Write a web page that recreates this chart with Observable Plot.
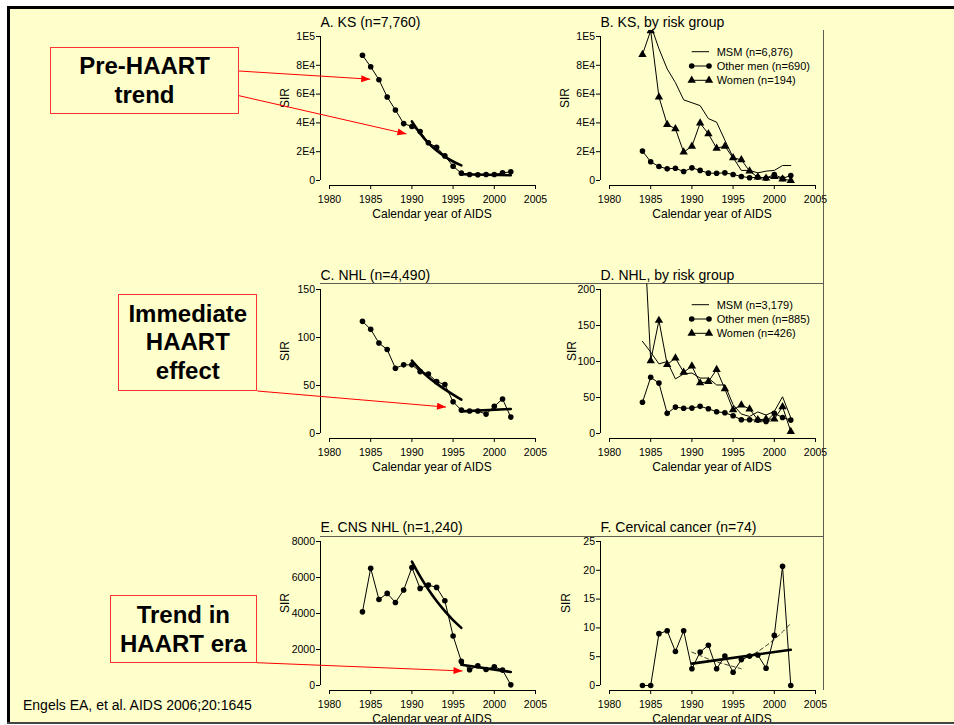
<!DOCTYPE html>
<html>
<head>
<meta charset="utf-8">
<script src="https://cdn.jsdelivr.net/npm/d3@7"></script>
<script src="https://cdn.jsdelivr.net/npm/@observablehq/plot@0.6"></script>
<style>
  html, body { margin: 0; padding: 0; }
  body { width: 954px; height: 725px; overflow: hidden; position: relative; background: #fff;
         font-family: "Liberation Sans", Arial, Helvetica, sans-serif; }
  #slide { position: absolute; left: 7px; top: 6px; width: 980px; height: 716px; background: #ffffcc;
           border-top: 3px solid #000; border-left: 3px solid #000; }
  #bottomBorder { position: absolute; left: 7px; top: 722px; width: 980px; height: 2px; background: #444; z-index: 20; }
  #below { position: absolute; left: 0; top: 724px; width: 954px; height: 2px; background: #fff; z-index: 20; }
  .panel { position: absolute; z-index: 2; }
  .panel svg { display: block; }
  .box { position: absolute; box-sizing: border-box; border: 1.2px solid #ff3333; z-index: 4;
         display: flex; align-items: center; justify-content: center; text-align: center;
         font-weight: bold; font-size: 24px; color: #000; }
  #cite { position: absolute; left: 23px; top: 697px; font-size: 14px; line-height: 16px; color: #000; z-index: 4; white-space: nowrap; }
  #overlay { position: absolute; left: 0; top: 0; z-index: 10; pointer-events: none; }
</style>
</head>
<body>
<div id="slide"></div>
<div id="bottomBorder"></div>
<div id="below"></div>
<div id="cite">Engels EA, et al. AIDS 2006;20:1645</div>
<script>
// ---------------- data ----------------
const years = [1984, 1985, 1986, 1987, 1988, 1989, 1990, 1991, 1992, 1993, 1994, 1995, 1996, 1997, 1998, 1999, 2000, 2001, 2002];
const preYears = [1990, 1991, 1992, 1993, 1994, 1995, 1996];
const postYears = [1996, 2002];
const postYearsCurve = [1996, 1997, 1998, 1999, 2000, 2001, 2002];
const xTicks = [1980, 1985, 1990, 1995, 2000, 2005];

// A. KS
const ksTicks = [0, 20000, 40000, 60000, 80000, 100000];
const ksTickLabels = ["0", "2E4", "4E4", "6E4", "8E4", "1E5"];
const A_sir = [87000, 79000, 70000, 58000, 49000, 39500, 37500, 34000, 26200, 23100, 17100, 9900, 5100, 4200, 4000, 4200, 4200, 5300, 6000];
const A_pre = [41000, 32700, 26000, 20800, 16600, 13200, 10500];
const A_post = [4300, 3600];

// B. KS by risk group
const B_msm = [125000, 108000, 91500, 77500, 68000, 56000, 54000, 52000, 43000, 40500, 28000, 16000, 7000, 7000, 5300, 6500, 7000, 10400, 10400];
const B_other = [20400, 13000, 9700, 8100, 8500, 6200, 8800, 7000, 5100, 5000, 5300, 4200, 2800, 1900, 2300, 1600, 4200, 1400, 3500];
const B_women = [87500, 104000, 58000, 38900, 35900, 19700, 23800, 39800, 32400, 22400, 23800, 15700, 14400, 6500, 2300, 1600, 2800, 1000, 0];
const B_legend = ["MSM (n=6,876)", "Other men (n=690)", "Women (n=194)"];

// C. NHL
const nhlTicks = [0, 50, 100, 150];
const C_sir = [116.8, 108.5, 94.2, 87.5, 68, 71.5, 71.5, 64.5, 62, 54, 51, 33, 24.4, 23.4, 23.4, 20.2, 28.3, 36, 17.1];
const C_pre = [76, 66.5, 58.5, 52, 46, 40.5, 35.2];
const C_post = [23, 25.5];

// D. NHL by risk group
const nhlRiskTicks = [0, 50, 100, 150, 200];
const D_msm = [128, 113, 96.7, 100, 75.8, 82.8, 84, 77, 77, 67.4, 67.4, 40, 27, 23.7, 30, 25.6, 30.7, 51, 21.9];
const D_other = [43.3, 78, 70, 28, 36.7, 35, 35.3, 37.7, 34.4, 30.2, 28.8, 24.7, 19, 19, 18.6, 16.7, 28, 22.3, 18.6];
const D_women = [325, 101, 157, 95.8, 104.7, 85, 93.5, 70.2, 72, 88.8, 61.9, 33, 39.5, 34, 19, 20, 20, 37.2, 2.8];
const D_legend = ["MSM (n=3,179)", "Other men (n=885)", "Women (n=426)"];

// E. CNS NHL
const cnsTicks = [0, 2000, 4000, 6000, 8000];
const E_sir = [4093, 6512, 4781, 5116, 4614, 5302, 6549, 5395, 5581, 5451, 4707, 2753, 1340, 874, 1098, 893, 1042, 856, 37];
const E_pre = [6880, 6060, 5330, 4690, 4130, 3630, 3200];
const E_post = [1150, 750];

// F. Cervical cancer
const cervTicks = [0, 5, 10, 15, 20, 25];
const F_sir = [0, 0, 9.0, 9.5, 5.9, 9.5, 2.9, 5.8, 7.0, 2.9, 5.1, 2.3, 4.5, 5.1, 5.3, 3.0, 8.7, 20.7, 0];
const F_trendYears = [1990, 2002];
const F_trend = [3.8, 6.2];
const F_dashPre = [5.8, 5.2, 4.6, 4.1, 3.7, 3.3, 2.9];
const F_dashPost = [4.4, 5.1, 5.9, 6.9, 8.0, 9.3, 10.8];

const titles = ["A. KS (n=7,760)", "B. KS, by risk group", "C. NHL (n=4,490)", "D. NHL, by risk group", "E. CNS NHL (n=1,240)", "F. Cervical cancer (n=74)"];
const xLabel = "Calendar year of AIDS";
const yLabel = "SIR";
const boxTexts = [["Pre-HAART", "trend"], ["Immediate", "HAART", "effect"], ["Trend in", "HAART era"]];

// ---------------- layout ----------------
const FONT = "'Liberation Sans', Arial, Helvetica, sans-serif";
const ML = 52, MR = 4, MT = 24, MB = 42, FH = 155;
const cols = [{fl: 320, fr: 543}, {fl: 600, fr: 823}];
const rows = [30, 283, 535];

const toRows = (xs, ys) => xs.map((year, i) => ({year, sir: ys[i]}));

function panel(cfg) {
  const {col, row, yTop, yTicks, yLabels, title, sirDx, marks} = cfg;
  const fl = cols[col].fl, fr = cols[col].fr, ft = rows[row];
  const width = ML + (fr - fl) + MR;
  const height = MT + FH + MB;
  const labelOf = new Map(yTicks.map((t, i) => [t, yLabels ? yLabels[i] : String(t)]));
  const chart = Plot.plot({
    width, height,
    marginLeft: ML, marginRight: MR, marginTop: MT, marginBottom: MB,
    insetTop: 6, insetBottom: 5, insetLeft: 9, insetRight: 8,
    style: {background: "transparent", fontFamily: FONT, fontSize: "10.5px", color: "#000", overflow: "visible"},
    x: {domain: [1980, 2005]},
    y: {domain: [0, yTop]},
    marks: [
      Plot.axisX({ticks: xTicks, tickFormat: d => String(d), tickSize: 4, tickPadding: 6, label: null, fontSize: 10.5}),
      Plot.axisY({ticks: yTicks, tickFormat: d => labelOf.get(d), tickSize: 4, tickPadding: 1.5, label: null, fontSize: 10.5}),
      Plot.ruleX([1980], {y1: () => 0, y2: () => yTop, dx: -9, stroke: "#000", strokeWidth: 1}),
      Plot.ruleY([0], {x1: () => 1980, x2: () => 2005, dy: 5, stroke: "#000", strokeWidth: 1}),
      Plot.text([title], {frameAnchor: "top-left", textAnchor: "start", dy: -13, fontSize: 14}),
      Plot.text([yLabel], {frameAnchor: "left", rotate: -90, dx: sirDx, fontSize: 12}),
      Plot.text([xLabel], {frameAnchor: "bottom", dy: 32, fontSize: 12}),
      ...marks
    ]
  });
  const svgLeft = fl - ML, svgTop = ft - MT;
  const div = document.createElement("div");
  div.className = "panel";
  div.style.left = svgLeft + "px";
  div.style.top = svgTop + "px";
  div.style.width = width + "px";
  div.style.height = height + "px";
  div.appendChild(chart);
  document.body.appendChild(div);
  return {chart, svgLeft, svgTop, fl, ft};
}

const dotR = 2.8;
const baseLine = (data, extra = {}) => Plot.line(data, {x: "year", y: "sir", stroke: "#000", strokeWidth: 1, clip: true, ...extra});
const circles = (data) => Plot.dot(data, {x: "year", y: "sir", r: dotR, fill: "#000", stroke: "none", clip: true});
const triangles = (data) => Plot.dot(data, {x: "year", y: "sir", r: 3.1, symbol: "triangle", fill: "#000", stroke: "none", clip: true});
const trend = (data, curve = "catmull-rom") => Plot.line(data, {x: "year", y: "sir", stroke: "#000", strokeWidth: 2.6, curve, clip: true});

// A
const aRows = toRows(years, A_sir);
const pA = panel({col: 0, row: 0, yTop: 100000, yTicks: ksTicks, yLabels: ksTickLabels, title: titles[0], sirDx: -35,
  marks: [baseLine(aRows), circles(aRows), trend(toRows(preYears, A_pre)), trend(toRows(postYears, A_post), "linear")]});

// B
const bM = toRows(years, B_msm), bO = toRows(years, B_other), bW = toRows(years, B_women);
const pB = panel({col: 1, row: 0, yTop: 100000, yTicks: ksTicks, yLabels: ksTickLabels, title: titles[1], sirDx: -35,
  marks: [baseLine(bM), baseLine(bO), circles(bO), baseLine(bW), triangles(bW)]});

// C
const cRows = toRows(years, C_sir);
const pC = panel({col: 0, row: 1, yTop: 150, yTicks: nhlTicks, title: titles[2], sirDx: -35,
  marks: [baseLine(cRows), circles(cRows), trend(toRows(preYears, C_pre)), trend(toRows(postYears, C_post), "linear")]});

// D
const dM = toRows(years, D_msm), dO = toRows(years, D_other), dW = toRows(years, D_women);
const pD = panel({col: 1, row: 1, yTop: 200, yTicks: nhlRiskTicks, title: titles[3], sirDx: -28,
  marks: [baseLine(dM), baseLine(dO), circles(dO), baseLine(dW), triangles(dW)]});

// E
const eRows = toRows(years, E_sir);
const pE = panel({col: 0, row: 2, yTop: 8000, yTicks: cnsTicks, title: titles[4], sirDx: -35,
  marks: [baseLine(eRows), circles(eRows), trend(toRows(preYears, E_pre)), trend(toRows(postYears, E_post), "linear")]});

// F
const fRows = toRows(years, F_sir);
const pF = panel({col: 1, row: 2, yTop: 25, yTicks: cervTicks, title: titles[5], sirDx: -34,
  marks: [
    baseLine(fRows), circles(fRows),
    Plot.line(toRows(preYears, F_dashPre), {x: "year", y: "sir", stroke: "#000", strokeWidth: 0.8, strokeDasharray: "4,3", curve: "catmull-rom"}),
    Plot.line(toRows(postYearsCurve, F_dashPost), {x: "year", y: "sir", stroke: "#000", strokeWidth: 0.8, strokeDasharray: "4,3", curve: "catmull-rom"}),
    trend(toRows(F_trendYears, F_trend), "linear")
  ]});

// legends for B and D
function addLegend(p, labels) {
  const g = d3.select(p.chart).append("g").attr("font-family", FONT).attr("font-size", 11).attr("text-anchor", "start");
  const x1 = p.fl + 91.7 - p.svgLeft, x2 = p.fl + 109 - p.svgLeft, tx = p.fl + 116.7 - p.svgLeft;
  const offs = [21.7, 36, 50.3];
  const kinds = [null, "circle", "triangle"];
  labels.forEach((lab, i) => {
    const y = p.ft + offs[i] - p.svgTop;
    g.append("line").attr("x1", x1).attr("x2", x2).attr("y1", y).attr("y2", y).attr("stroke", "#000").attr("stroke-width", 1);
    if (kinds[i]) {
      [x1, x2].forEach(x => {
        if (kinds[i] === "circle") g.append("circle").attr("cx", x).attr("cy", y).attr("r", dotR).attr("fill", "#000");
        else g.append("path").attr("transform", `translate(${x},${y})`).attr("d", d3.symbol(d3.symbolTriangle, Math.PI * 3.1 * 3.1)()).attr("fill", "#000");
      });
    }
    g.append("text").attr("x", tx).attr("y", y).attr("dy", "0.35em").attr("text-anchor", "start").attr("fill", "#000").text(lab);
  });
}
addLegend(pB, B_legend);
addLegend(pD, D_legend);

// annotation boxes
const boxGeom = [
  {left: 50, top: 46.7, width: 189, height: 67.6, lh: 29},
  {left: 118.3, top: 294.3, width: 139, height: 96.7, lh: 28.4},
  {left: 110, top: 595, width: 146.7, height: 67.7, lh: 29}
];
boxTexts.forEach((lines, i) => {
  const b = boxGeom[i];
  const d = document.createElement("div");
  d.className = "box";
  Object.assign(d.style, {left: b.left + "px", top: b.top + "px", width: b.width + "px", height: b.height + "px", lineHeight: b.lh + "px"});
  d.innerHTML = "<div>" + lines.join("<br>") + "</div>";
  document.body.appendChild(d);
});

// overlay: image border lines and arrows
const ov = d3.select("body").append("svg").attr("id", "overlay").attr("width", 954).attr("height", 725);
ov.append("line").attr("x1", 320).attr("x2", 823).attr("y1", 283.5).attr("y2", 283.5).attr("stroke", "#333").attr("stroke-width", 0.8);
ov.append("line").attr("x1", 320).attr("x2", 823).attr("y1", 536.5).attr("y2", 536.5).attr("stroke", "#333").attr("stroke-width", 0.8);
ov.append("line").attr("x1", 823.5).attr("x2", 823.5).attr("y1", 30).attr("y2", 690).attr("stroke", "#333").attr("stroke-width", 0.8);

function pagePos(p, x, y) {
  return [p.svgLeft + p.chart.scale("x").apply(x), p.svgTop + p.chart.scale("y").apply(y)];
}
function arrow(from, to) {
  ov.append("line").attr("x1", from[0]).attr("y1", from[1]).attr("x2", to[0]).attr("y2", to[1])
    .attr("stroke", "#ff0000").attr("stroke-width", 1);
  const ang = Math.atan2(to[1] - from[1], to[0] - from[0]);
  const L = 9, W = 3.5;
  const bx = to[0] - L * Math.cos(ang), by = to[1] - L * Math.sin(ang);
  const px = -Math.sin(ang) * W, py = Math.cos(ang) * W;
  ov.append("path").attr("d", `M${to[0]},${to[1]}L${bx + px},${by + py}L${bx - px},${by - py}Z`).attr("fill", "#ff0000");
}
arrow([239, 71], pagePos(pA, 1985, 70000));
arrow([239, 95.7], pagePos(pA, 1989.4, 32000));
arrow([257.3, 391], pagePos(pC, 1994.2, 27));
arrow([256.7, 662.7], pagePos(pE, 1996.2, 780));
</script>
</body>
</html>
